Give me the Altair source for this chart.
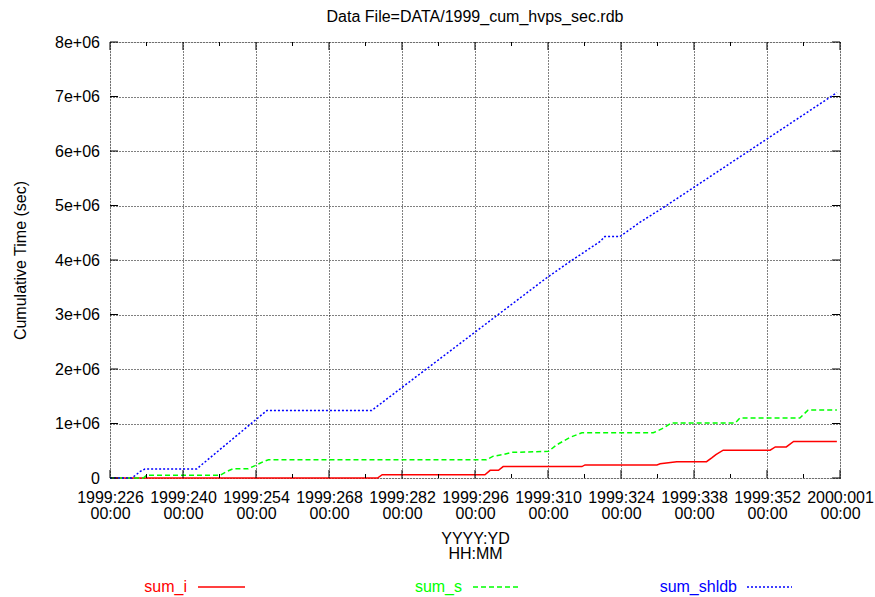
import altair as alt
import pandas as pd

# ---------------- data ----------------
x_tick_days = [226, 240, 254, 268, 282, 296, 310, 324, 338, 352, 366]
x_tick_labels = ["1999:226", "1999:240", "1999:254", "1999:268", "1999:282", "1999:296",
                 "1999:310", "1999:324", "1999:338", "1999:352", "2000:001"]
x_minor_days = [233, 247, 261, 275, 289, 303, 317, 331, 345, 359]
y_ticks = [0, 1000000, 2000000, 3000000, 4000000, 5000000, 6000000, 7000000, 8000000]
y_tick_labels = ["0", "1e+06", "2e+06", "3e+06", "4e+06", "5e+06", "6e+06", "7e+06", "8e+06"]

series_names = ["sum_i", "sum_s", "sum_shldb"]
series_colors = ["#ff0000", "#00ff00", "#0000ff"]

sum_i_day = [226, 277.3, 278.2, 296.8, 297.9, 298.9, 300.5, 301.4, 316.5, 317.1, 330.9, 331.5,
             334.7, 340.4, 341.4, 342.2, 343.6, 352.6, 353.6, 355.7, 357.1, 365.4]
sum_i_val = [0, 0, 60000, 60000, 60000, 140000, 140000, 210000, 210000, 240000, 240000, 260000,
             300000, 300000, 370000, 430000, 510000, 510000, 570000, 570000, 670000, 670000]

sum_s_day = [226, 232.4, 233.0, 247.1, 248.4, 249.6, 252.5, 253.8, 255.4, 256.4, 297.9, 298.2,
             299.5, 301.4, 303.0, 310.1, 311.7, 314.2, 316.5, 330.2, 331.8, 333.7, 345.9,
             346.8, 358.3, 359.9, 365.4]
sum_s_val = [0, 0, 50000, 50000, 120000, 170000, 170000, 226000, 300000, 336000, 336000, 336000,
             400000, 430000, 470000, 490000, 610000, 745000, 830000, 830000, 900000, 1010000,
             1010000, 1100000, 1100000, 1250000, 1250000]

sum_shldb_day = [226, 230.2, 231.8, 232.7, 242.6, 256.1, 276.2, 304.6, 309.7, 314.2, 320.0,
                 320.9, 323.8, 327.6, 332.4, 365.4]
sum_shldb_val = [0, 0, 120000, 165000, 165000, 1240000, 1240000, 3300000, 3670000, 3970000,
                 4340000, 4430000, 4430000, 4690000, 4980000, 7070000]

# ---------------- layout ----------------
W, H = 730, 436
FONT = "Liberation Sans"
FS = 16

x_scale = alt.Scale(domain=[226, 366], nice=False, zero=False)
y_scale = alt.Scale(domain=[0, 8000000], nice=False)

x_label_expr = ("[[" + ",".join("'%s'" % s for s in x_tick_labels) + "][indexof(["
                + ",".join(str(d) for d in x_tick_days) + "], datum.value)], '00:00']")
y_label_expr = ("[" + ",".join("'%s'" % s for s in y_tick_labels) + "][indexof(["
                + ",".join(str(v) for v in y_ticks) + "], datum.value)]")

x_axis = alt.Axis(values=x_tick_days, labelExpr=x_label_expr, ticks=False, domain=False,
                  grid=True, gridColor="black", gridDash=[1, 2], gridOpacity=1, gridWidth=1,
                  labelFont=FONT, labelFontSize=FS, labelColor="black", labelPadding=11,
                  labelLineHeight=16.7, labelBaseline="top", labelOverlap=False, labelFlush=False,
                  title=["YYYY:YD", "HH:MM"], titleFont=FONT, titleFontSize=FS,
                  titleFontWeight="normal", titleColor="black", titleLineHeight=15.5,
                  titleBaseline="top", titleX=W / 2, titleY=52, titleAlign="center")
y_axis = alt.Axis(values=y_ticks, labelExpr=y_label_expr, ticks=False, domain=False,
                  grid=True, gridColor="black", gridDash=[1, 2], gridOpacity=1, gridWidth=1,
                  labelFont=FONT, labelFontSize=FS, labelColor="black", labelPadding=10.5,
                  title="Cumulative Time (sec)", titleFont=FONT, titleFontSize=FS,
                  titleFontWeight="normal", titleColor="black", titleBaseline="middle",
                  titleX=-90, titleY=H / 2, titleAlign="center", titleAngle=270)

X = lambda: alt.X("day:Q", scale=x_scale, axis=x_axis)
Y = lambda: alt.Y("value:Q", scale=y_scale, axis=y_axis)

layers = []

series = [
    (sum_i_day, sum_i_val, None),
    (sum_s_day, sum_s_val, [5, 3]),
    (sum_shldb_day, sum_shldb_val, [2, 2]),
]
for i, (days, vals, dash) in enumerate(series):
    df = pd.DataFrame({"day": days, "value": vals, "series": series_names[i]})
    kw = dict(color=series_colors[i], strokeWidth=1.5)
    if dash:
        kw["strokeDash"] = dash
    layers.append(alt.Chart(df).mark_line(**kw).encode(x=X(), y=Y()))

# inward tick marks (major / minor on bottom and top, major on left and right)
maj = pd.DataFrame({"day": x_tick_days})
mnr = pd.DataFrame({"day": x_minor_days})
yt = pd.DataFrame({"value": y_ticks})
tk = dict(color="black", strokeWidth=1)
layers += [
    alt.Chart(maj).mark_rule(**tk).encode(x=X(), y=alt.value(H), y2=alt.value(H - 8)),
    alt.Chart(maj).mark_rule(**tk).encode(x=X(), y=alt.value(0), y2=alt.value(8)),
    alt.Chart(mnr).mark_rule(**tk).encode(x=X(), y=alt.value(H), y2=alt.value(H - 4)),
    alt.Chart(mnr).mark_rule(**tk).encode(x=X(), y=alt.value(0), y2=alt.value(4)),
    alt.Chart(yt).mark_rule(**tk).encode(y=Y(), x=alt.value(0), x2=alt.value(8)),
    alt.Chart(yt).mark_rule(**tk).encode(y=Y(), x=alt.value(W - 8), x2=alt.value(W)),
]

# legend at the bottom (coloured text + line sample)
one = pd.DataFrame({"k": [0]})
leg_text_right = [77, 352, 627]
leg_sample = [(88, 135), (363, 410), (637, 682)]
leg_dash = [None, [5, 3], [2, 2]]
for i, name in enumerate(series_names):
    layers.append(alt.Chart(one).mark_text(
        font=FONT, fontSize=FS, color=series_colors[i], align="right", baseline="alphabetic"
    ).encode(x=alt.value(leg_text_right[i]), y=alt.value(550), text=alt.value(name)))
    rk = dict(color=series_colors[i], strokeWidth=1.5)
    if leg_dash[i]:
        rk["strokeDash"] = leg_dash[i]
    layers.append(alt.Chart(one).mark_rule(**rk).encode(
        x=alt.value(leg_sample[i][0]), x2=alt.value(leg_sample[i][1]), y=alt.value(545)))

chart = alt.layer(*layers).properties(
    width=W, height=H,
    title=alt.TitleParams("Data File=DATA/1999_cum_hvps_sec.rdb", font=FONT, fontSize=FS,
                          fontWeight="normal", color="black", anchor="middle", frame="group",
                          baseline="alphabetic", offset=-4),
    autosize=alt.AutoSizeParams(type="none"),
    padding={"left": 110, "top": 42, "right": 35, "bottom": 119},
).configure_view(stroke="black", strokeWidth=1).configure(background="white")

chart.save("out.html", embed_options={"renderer": "svg", "actions": False})
